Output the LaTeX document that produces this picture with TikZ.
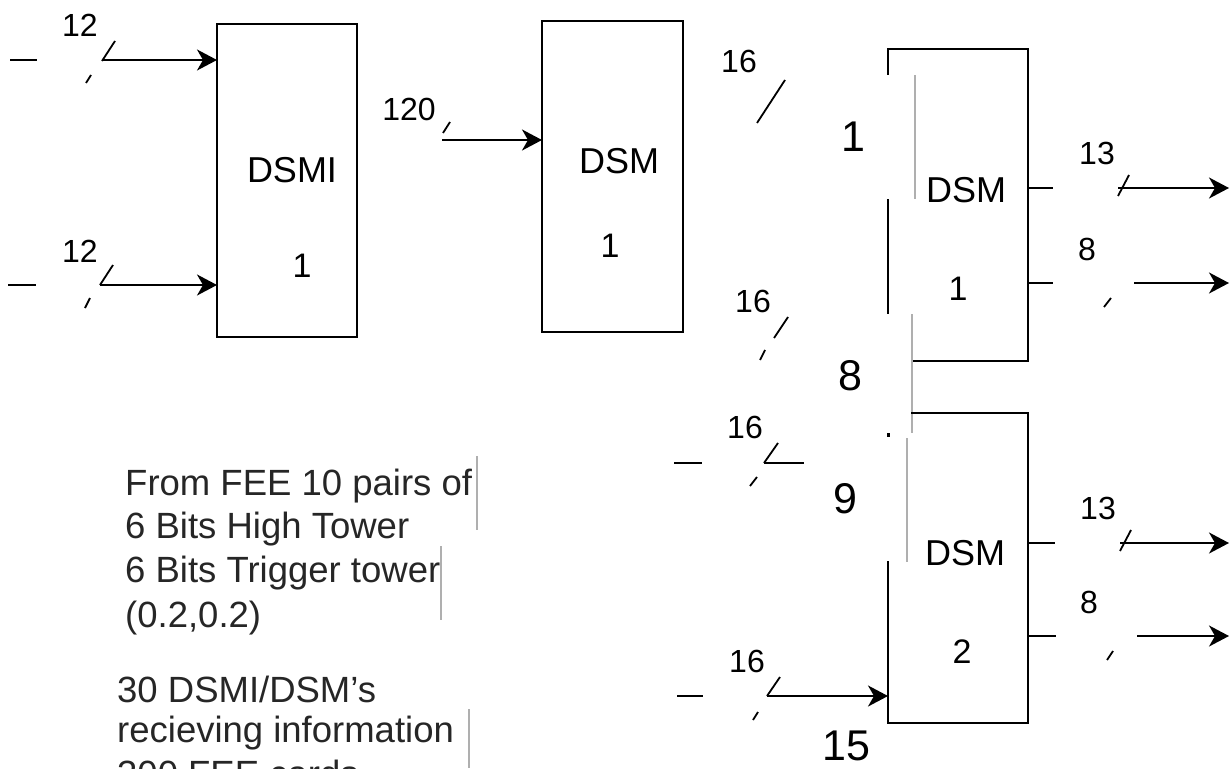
\documentclass[tikz,border=0pt]{standalone}
\usepackage{fontspec}
\setmainfont{Liberation Sans}
\usetikzlibrary{arrows.meta}
\begin{document}
\begin{tikzpicture}[x=1pt,y=-1pt,
  edge/.style={line width=2pt,line cap=rect},
  wire/.style={line width=2pt},
  tick/.style={line width=1.8pt},
  arr/.style={line width=2pt,-{Stealth[length=20pt,width=21pt,inset=6pt]}},
  ghost/.style={line width=1.6pt,color={rgb,255:red,175;green,175;blue,175}},
  lab/.style={inner sep=0pt,anchor=base,font=\fontsize{32}{38}\selectfont},
  boxtxt/.style={inner sep=0pt,anchor=base,font=\fontsize{36}{43}\selectfont},
  numtxt/.style={inner sep=0pt,anchor=base,font=\fontsize{34}{40}\selectfont},
  big/.style={inner sep=0pt,anchor=base,font=\fontsize{43}{50}\selectfont},
  body/.style={inner sep=0pt,anchor=base west,font=\fontsize{36.5}{44}\selectfont,text=black!85}]
\useasboundingbox (0,0) rectangle (1230,768);

% ---------- DSMI box ----------
\coordinate (dsmiNW) at (217,24);
\coordinate (dsmiSE) at (357,337);
\draw[edge] (dsmiNW) rectangle (dsmiSE);
\node[boxtxt] (tdsmi) at (292,182) {DSMI};
\node[numtxt] (tdsmi1) at (302,277) {1};

% inputs to DSMI
\node[lab] (l12a) at (80,37) {12};
\draw[wire] (10,60) -- (37,60);
\draw[tick] (115,41) -- (102,61);
\draw[tick] (86,83) -- (91,75);
\coordinate (a1s) at (102,60);
\draw[arr] (a1s) -- (a1s -| dsmiNW);

\node[lab] (l12b) at (80,262) {12};
\draw[wire] (8,285) -- (36,285);
\draw[tick] (113,265) -- (100,285);
\draw[tick] (85,308) -- (90,298);
\coordinate (a2s) at (100,285);
\draw[arr] (a2s) -- (a2s -| dsmiNW);

% ---------- DSM 1 box ----------
\coordinate (dsmNW) at (542,21);
\coordinate (dsmSE) at (683,332);
\draw[edge] (dsmNW) rectangle (dsmSE);
\node[boxtxt] (tdsm) at (619,173) {DSM};
\node[numtxt] (tdsm1) at (610,257) {1};

\node[lab] (l120) at (409,120) {120};
\draw[tick] (450,122) -- (443,133);
\coordinate (a3s) at (442,140);
\draw[arr] (a3s) -- (a3s -| dsmNW);

% ---------- right DSM 1 (broken outline) ----------
\coordinate (b1NW) at (888,49);
\coordinate (b1SE) at (1028,361);
\draw[edge] (888,74) -- (b1NW) -- (b1NW -| b1SE) -- (b1SE) -- (912,361);
\draw[edge] (888,200) -- (888,313);
\draw[ghost] (915,75) -- (915,199);
\draw[ghost] (912,314) -- (912,433);
\node[boxtxt] (tb1) at (966,202) {DSM};
\node[numtxt] (tb1n) at (958,300) {1};

% ---------- right DSM 2 (broken outline) ----------
\coordinate (b2NW) at (888,413);
\coordinate (b2SE) at (1028,723);
\draw[edge] (912,413) -- (b2NW -| b2SE) -- (b2SE) -- (b2SE -| b2NW) -- (888,562);
\draw[ghost] (907,438) -- (907,562);
\fill (887,433) rectangle (889.5,437);
\node[boxtxt] (tb2) at (965,565) {DSM};
\node[numtxt] (tb2n) at (962,663) {2};

% ---------- right inputs ----------
\node[lab] (l16a) at (739,72) {16};
\draw[tick] (785,80) -- (757,123);
\node[big] (n1) at (853,151) {1};

\node[lab] (l16b) at (753,312) {16};
\draw[tick] (788,317) -- (774,338);
\draw[tick] (765,350) -- (760,360);
\node[big] (n8) at (850,390) {8};

\node[lab] (l16c) at (745,438) {16};
\draw[wire] (674,463) -- (702,463);
\draw[tick] (778,443) -- (764,463);
\draw[wire] (764,463) -- (804,463);
\draw[tick] (750,486) -- (757,477);
\node[big] (n9) at (845,513) {9};

\node[lab] (l16d) at (747,672) {16};
\draw[wire] (677,696) -- (703,696);
\draw[tick] (780,677) -- (767,696);
\draw[tick] (753,720) -- (758,712);
\coordinate (a4s) at (767,696);
\draw[arr] (a4s) -- (a4s -| b2NW);
\node[big] (n15) at (846,760) {15};

% ---------- right outputs ----------
\coordinate (o1s) at (1028,188);
\draw[wire] (o1s) -- (1053,188);
\node[lab] (l13a) at (1097,164) {13};
\draw[tick] (1129,175) -- (1118,196);
\coordinate (o1a) at (1118,188);
\coordinate (o1e) at (1229,188);
\draw[arr] (o1a) -- (o1e);

\coordinate (o2s) at (1028,283);
\draw[wire] (o2s) -- (1053,283);
\node[lab] (l8a) at (1087,260) {8};
\draw[tick] (1104,307) -- (1111,298);
\coordinate (o2a) at (1134,283);
\coordinate (o2e) at (1229,283);
\draw[arr] (o2a) -- (o2e);

\coordinate (o3s) at (1028,543);
\draw[wire] (o3s) -- (1055,543);
\node[lab] (l13b) at (1098,519) {13};
\draw[tick] (1131,530) -- (1120,551);
\coordinate (o3a) at (1120,543);
\coordinate (o3e) at (1229,543);
\draw[arr] (o3a) -- (o3e);

\coordinate (o4s) at (1028,636);
\draw[wire] (o4s) -- (1056,636);
\node[lab] (l8b) at (1089,613) {8};
\draw[tick] (1107,660) -- (1113,651);
\coordinate (o4a) at (1137,636);
\coordinate (o4e) at (1229,636);
\draw[arr] (o4a) -- (o4e);

% ---------- text block ----------
\node[body] (t1) at (125,495) {From FEE 10 pairs of};
\node[body] (t2) at (125,538) {6 Bits High Tower};
\node[body] (t3) at (125,582) {6 Bits Trigger tower};
\node[body] (t4) at (125,627) {(0.2,0.2)};
\node[body] (t5) at (117,702) {30 DSMI/DSM's};
\node[body] (t6) at (117,742) {recieving information};
\node[body] (t7) at (117,786) {300 FEE cards};
\draw[ghost] (477,456) -- (477,530);
\draw[ghost] (441,546) -- (441,620);
\draw[ghost] (469,709) -- (469,768);
\end{tikzpicture}
\end{document}
